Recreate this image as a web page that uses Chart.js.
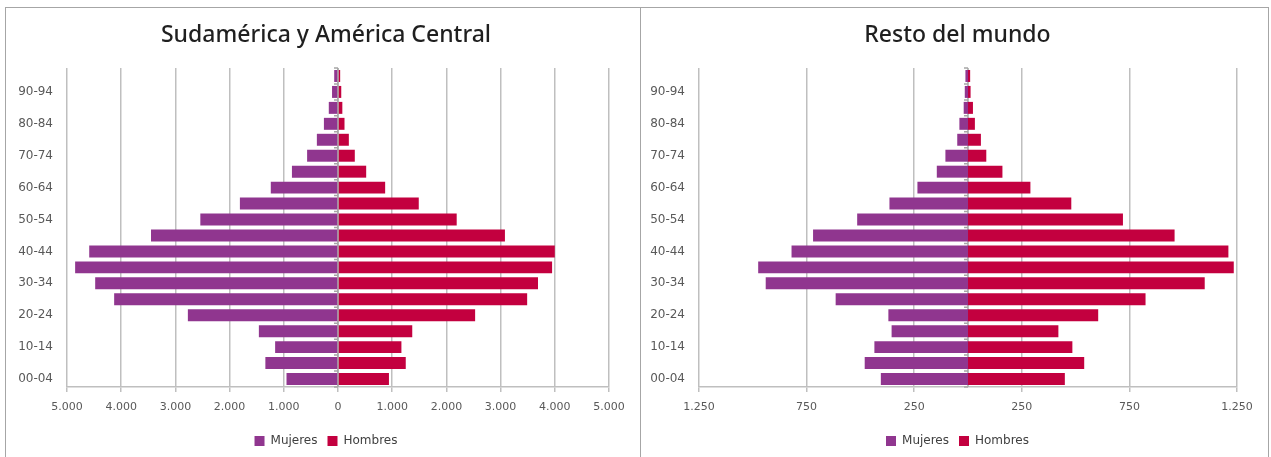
<!DOCTYPE html>
<html><head><meta charset="utf-8">
<script src="https://cdn.jsdelivr.net/npm/chart.js@4.4.1/dist/chart.umd.min.js"></script>
<style>
html,body{margin:0;padding:0;background:#fff;width:1271px;height:457px;overflow:hidden;position:relative;}
.panel{position:absolute;border:1.5px solid #A6A6A6;box-sizing:border-box;background:#fff}
#p1{left:5px;top:7px;width:637px;height:462px;}
#p2{left:640px;top:7px;width:629px;height:462px;}
canvas{position:absolute;}
#c1{left:6px;top:8px;}
#c2{left:642px;top:8px;}
</style></head><body>
<div class="panel" id="p1"></div>
<div class="panel" id="p2"></div>
<canvas id="c1" width="634" height="449"></canvas>
<canvas id="c2" width="625" height="449"></canvas>
<script>
const ageGroups = ['00-04','05-09','10-14','15-19','20-24','25-29','30-34','35-39','40-44','45-49',
                   '50-54','55-59','60-64','65-69','70-74','75-79','80-84','85-89','90-94','95-99'];
const seriesNames = ['Mujeres','Hombres'];

const titleSA = 'Sudamérica y América Central';
const mujeresSA = [950,1340,1160,1460,2770,4130,4480,4850,4590,3450,2540,1810,1240,850,570,390,260,170,110,70];
const hombresSA = [940,1250,1170,1370,2530,3490,3690,3950,4000,3080,2190,1490,870,520,310,200,120,80,60,40];
const xTicksSA = [-5000,-4000,-3000,-2000,-1000,0,1000,2000,3000,4000,5000];

const titleRM = 'Resto del mundo';
const mujeresRM = [405,480,435,355,370,615,940,975,820,720,515,365,235,145,105,50,40,20,15,12];
const hombresRM = [450,540,485,420,605,825,1100,1235,1210,960,720,480,290,160,85,60,32,23,12,10];
const xTicksRM = [-1250,-750,-250,250,750,1250];

const COL_M = '#90368F';
const COL_H = '#C3003F';
const GRID = '#BFBFBF';
const TXT = '#595959';

function fmt(v){ return String(v).replace(/\B(?=(\d{3})+(?!\d))/g,'.'); }

const centerAxis = {
  id:'centerAxis',
  beforeDatasetsDraw(chart){
    const {ctx, chartArea:a, scales:{x}} = chart;
    const px = Math.round(x.getPixelForValue(0));
    ctx.save();
    ctx.strokeStyle = '#A6A6A6'; ctx.lineWidth = 1.5;
    ctx.beginPath();
    ctx.moveTo(px, a.top); ctx.lineTo(px, a.bottom);
    const n = chart.data.labels.length;
    for(let i=0;i<=n;i++){
      const yy = a.top + (a.bottom - a.top) * i / n;
      ctx.moveTo(px-4, yy); ctx.lineTo(px, yy);
    }
    ctx.stroke();
    ctx.restore();
  }
};

function makeChart(id, title, mujeres, hombres, xTicks, yWidth, rightWidth){
  const xMin = xTicks[0], xMax = xTicks[xTicks.length-1];
  return new Chart(document.getElementById(id), {
    type:'bar',
    data:{
      labels: ageGroups,
      datasets:[
        {label: seriesNames[0], data: mujeres.map(v=>-v), backgroundColor: COL_M, borderWidth:0,
         barPercentage:0.75, categoryPercentage:1},
        {label: seriesNames[1], data: hombres, backgroundColor: COL_H, borderWidth:0,
         barPercentage:0.75, categoryPercentage:1}
      ]
    },
    plugins:[centerAxis],
    options:{
      responsive:false, animation:false, indexAxis:'y',
      layout:{padding:{left:6,right:0,top:0,bottom:0}},
      plugins:{
        title:{display:true, text:title, color:'#1f1f1f',
               font:{family:'Noto Sans', size:23, weight:'500'}, padding:{top:14,bottom:18.4}},
        legend:{position:'bottom',
                labels:{boxWidth:10, boxHeight:10, padding:10, color:'#404040',
                        font:{family:'DejaVu Sans', size:12}}},
        tooltip:{enabled:false}
      },
      scales:{
        x:{type:'linear', min:xMin, max:xMax, stacked:true,
           afterBuildTicks(s){ s.ticks = xTicks.map(v=>({value:v})); },
           afterFit(s){ s.height = 38; },
           grid:{color:GRID, lineWidth:1.5, drawTicks:true, tickLength:5, tickColor:GRID},
           border:{display:true, color:GRID, width:1.5},
           ticks:{color:TXT, font:{family:'DejaVu Sans', size:11}, padding:9, maxRotation:0, autoSkip:false,
                  callback:v=>fmt(Math.abs(v))}
        },
        y:{type:'category', reverse:true, stacked:true,
           afterFit(s){ s.width = yWidth; },
           grid:{display:false, drawTicks:false}, border:{display:false},
           ticks:{color:TXT, font:{family:'DejaVu Sans', size:12}, padding:14, autoSkip:false,
                  callback:function(v,i){ return i%2===0 ? this.getLabelForValue(v) : ''; }}
        },
        yRight:{type:'category', position:'right', display:true,
           afterFit(s){ s.width = rightWidth; },
           grid:{display:false, drawTicks:false}, border:{display:false},
           ticks:{display:false}
        }
      }
    }
  });
}

makeChart('c1', titleSA, mujeresSA, hombresSA, xTicksSA, 55, 31);
makeChart('c2', titleRM, mujeresRM, hombresRM, xTicksRM, 51, 30);
</script>
</body></html>
